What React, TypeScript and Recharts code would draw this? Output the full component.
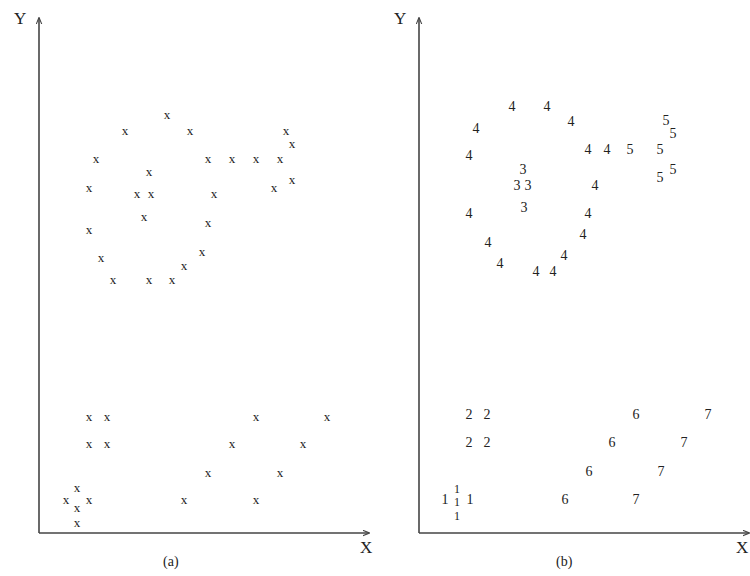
import { ScatterChart, Scatter, XAxis, YAxis } from "recharts";

// left panel (a): unlabelled points
const upperPoints = [
  { x: 128, y: 419 }, { x: 86, y: 403 }, { x: 151, y: 403 }, { x: 247, y: 403 },
  { x: 253, y: 390 }, { x: 57, y: 375 }, { x: 169, y: 375 }, { x: 193, y: 375 },
  { x: 217, y: 375 }, { x: 241, y: 375 }, { x: 110, y: 362 }, { x: 50, y: 346 },
  { x: 98, y: 340 }, { x: 112, y: 340 }, { x: 175, y: 340 }, { x: 235, y: 346 },
  { x: 253, y: 354 }, { x: 105, y: 317 }, { x: 169, y: 311 }, { x: 50, y: 304 },
  { x: 62, y: 276 }, { x: 163, y: 282 }, { x: 145, y: 268 }, { x: 74, y: 254 },
  { x: 110, y: 254 }, { x: 133, y: 254 },
];
const lowerPoints = [
  { x: 50, y: 117 }, { x: 68, y: 117 }, { x: 217, y: 117 }, { x: 288, y: 117 },
  { x: 50, y: 90 }, { x: 68, y: 90 }, { x: 193, y: 90 }, { x: 264, y: 90 },
  { x: 169, y: 61 }, { x: 241, y: 61 }, { x: 38, y: 46 }, { x: 27, y: 34 },
  { x: 50, y: 34 }, { x: 145, y: 34 }, { x: 217, y: 34 }, { x: 38, y: 26 },
  { x: 38, y: 11 },
];

// right panel (b): clusters
const cluster1 = [{ x: 26, y: 34 }, { x: 51, y: 34 }];
const cluster1Stacked = [{ x: 38, y: 44 }, { x: 38, y: 31 }, { x: 38, y: 17 }];
const cluster2 = [{ x: 50, y: 119 }, { x: 68, y: 119 }, { x: 50, y: 91 }, { x: 68, y: 91 }];
const cluster3 = [{ x: 104, y: 364 }, { x: 98, y: 348 }, { x: 109, y: 348 }, { x: 105, y: 326 }];
const cluster4 = [
  { x: 93, y: 427 }, { x: 128, y: 427 }, { x: 152, y: 412 }, { x: 57, y: 405 },
  { x: 50, y: 378 }, { x: 169, y: 384 }, { x: 188, y: 384 }, { x: 176, y: 348 },
  { x: 50, y: 320 }, { x: 169, y: 320 }, { x: 164, y: 299 }, { x: 69, y: 291 },
  { x: 145, y: 278 }, { x: 81, y: 270 }, { x: 117, y: 262 }, { x: 134, y: 262 },
];
const cluster5 = [
  { x: 247, y: 413 }, { x: 254, y: 400 }, { x: 211, y: 384 },
  { x: 241, y: 384 }, { x: 254, y: 364 }, { x: 241, y: 356 },
];
const cluster6 = [{ x: 217, y: 119 }, { x: 193, y: 91 }, { x: 170, y: 62 }, { x: 146, y: 34 }];
const cluster7 = [{ x: 289, y: 119 }, { x: 265, y: 91 }, { x: 242, y: 62 }, { x: 217, y: 34 }];

const SERIF = "'Liberation Serif', 'DejaVu Serif', serif";

const glyph = (label: string, size: number) => (props: any) => (
  <text
    x={props.cx}
    y={props.cy}
    textAnchor="middle"
    dominantBaseline="central"
    fontFamily={SERIF}
    fontSize={size}
    fill="#222"
  >
    {label}
  </text>
);

const margin = { top: 18, right: 2, left: 37, bottom: 41 };

function Axes() {
  return [
    <XAxis
      key="x"
      type="number"
      dataKey="x"
      domain={[0, 330]}
      height={2}
      tick={false}
      tickLine={false}
      axisLine={{ stroke: "#444", strokeWidth: 1.6, markerEnd: "url(#arrowHead)" }}
    />,
    <YAxis
      key="y"
      type="number"
      dataKey="y"
      domain={[0, 515]}
      width={2}
      tick={false}
      tickLine={false}
      axisLine={{ stroke: "#444", strokeWidth: 1.6, markerStart: "url(#arrowHead)" }}
    />,
  ];
}

const labelStyle = (left: number, top: number, size: number): any => ({
  position: "absolute",
  left,
  top,
  fontFamily: SERIF,
  fontSize: size,
  lineHeight: 1,
  color: "#222",
});

export default function App() {
  return (
    <div style={{ position: "absolute", left: 0, top: 0, width: 750, height: 576, overflow: "hidden", background: "#fff" }}>
      <svg width={0} height={0} style={{ position: "absolute" }}>
        <defs>
          <marker id="arrowHead" viewBox="0 0 10 10" refX="9" refY="5" markerWidth="7" markerHeight="7" orient="auto-start-reverse" markerUnits="userSpaceOnUse">
            <path d="M0,1 L10,5 L0,9" fill="none" stroke="#444" strokeWidth={1.5} />
          </marker>
        </defs>
      </svg>

      <div style={{ position: "absolute", left: 0, top: 0 }}>
        <ScatterChart width={371} height={576} margin={margin}>
          {Axes()}
          <Scatter data={upperPoints} shape={glyph("x", 13)} isAnimationActive={false} />
          <Scatter data={lowerPoints} shape={glyph("x", 13)} isAnimationActive={false} />
        </ScatterChart>
      </div>

      <div style={{ position: "absolute", left: 380, top: 0 }}>
        <ScatterChart width={371} height={576} margin={margin}>
          {Axes()}
          <Scatter data={cluster1} shape={glyph("1", 14)} isAnimationActive={false} />
          <Scatter data={cluster1Stacked} shape={glyph("1", 12)} isAnimationActive={false} />
          <Scatter data={cluster2} shape={glyph("2", 14)} isAnimationActive={false} />
          <Scatter data={cluster3} shape={glyph("3", 14)} isAnimationActive={false} />
          <Scatter data={cluster4} shape={glyph("4", 14)} isAnimationActive={false} />
          <Scatter data={cluster5} shape={glyph("5", 14)} isAnimationActive={false} />
          <Scatter data={cluster6} shape={glyph("6", 14)} isAnimationActive={false} />
          <Scatter data={cluster7} shape={glyph("7", 14)} isAnimationActive={false} />
        </ScatterChart>
      </div>

      <span style={labelStyle(14, 10, 17)}>Y</span>
      <span style={labelStyle(360, 539, 17)}>X</span>
      <span style={labelStyle(163, 555, 14)}>(a)</span>
      <span style={labelStyle(394, 10, 17)}>Y</span>
      <span style={labelStyle(736, 539, 17)}>X</span>
      <span style={labelStyle(556, 555, 14)}>(b)</span>
    </div>
  );
}
